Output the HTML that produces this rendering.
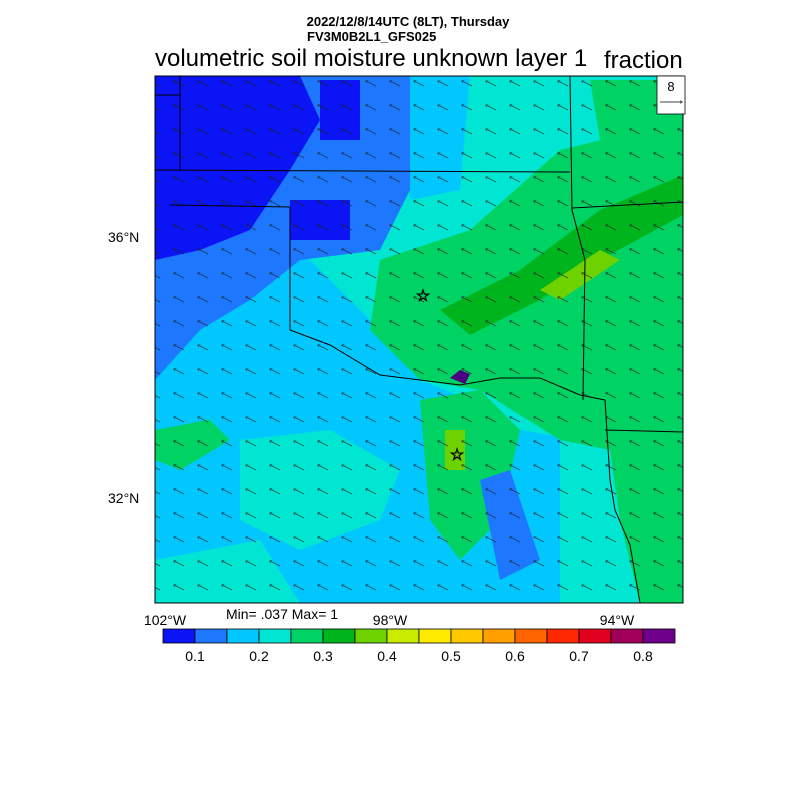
<!DOCTYPE html>
<html><head><style>
body{margin:0;background:#fff;width:800px;height:800px;overflow:hidden;font-family:"Liberation Sans",sans-serif}
</style></head><body>
<svg width="800" height="800" viewBox="0 0 800 800" xmlns="http://www.w3.org/2000/svg" font-family="Liberation Sans, sans-serif">
<defs>
<marker id="ah" markerWidth="4" markerHeight="4" refX="3" refY="2" orient="auto"><path d="M0,0 L4,2 L0,4" fill="none" stroke="#222" stroke-width="0.8"/></marker>
<pattern id="arrN" width="24" height="24" patternUnits="userSpaceOnUse"><line x1="16" y1="14" x2="6" y2="9" stroke="#222" stroke-width="0.7" marker-end="url(#ah)"/></pattern>
<pattern id="arrS" width="24" height="24" patternUnits="userSpaceOnUse"><line x1="10" y1="18" x2="14" y2="6" stroke="#222" stroke-width="0.7" marker-end="url(#ah)"/></pattern>
<clipPath id="mc"><rect x="155" y="76" width="528" height="527"/></clipPath>
</defs>
<text x="408" y="26" font-size="13" font-weight="bold" text-anchor="middle">2022/12/8/14UTC (8LT), Thursday</text>
<text x="307" y="41" font-size="13" font-weight="bold">FV3M0B2L1_GFS025</text>
<text x="155" y="66" font-size="24">volumetric soil moisture unknown layer 1</text>
<text x="604" y="68" font-size="24">fraction</text>
<g clip-path="url(#mc)">
<rect x="155" y="76" width="528" height="527" fill="#00e6d2"/>
<polygon points="155,250 300,250 380,330 420,380 470,400 520,430 580,440 560,603 155,603" fill="#00c8ff"/>
<polygon points="240,440 330,430 400,470 380,520 300,550 240,520" fill="#00e6d2"/>
<polygon points="155,560 260,540 300,603 155,603" fill="#00e6d2"/>
<polygon points="155,420 200,410 230,440 180,470 155,460" fill="#00d264"/>
<polygon points="380,260 470,230 560,150 683,120 683,603 560,603 560,440 480,390 420,380 370,330" fill="#00d264"/>
<polygon points="420,400 480,390 520,430 500,520 460,560 430,520" fill="#00d264"/>
<polygon points="560,440 610,450 620,520 640,603 560,603" fill="#00e6d2"/>
<polygon points="590,80 683,80 683,130 600,140" fill="#00d264"/>
<polygon points="440,310 520,270 600,210 683,175 683,215 600,260 540,300 470,335" fill="#00b41e"/>
<polygon points="540,290 600,250 620,260 560,300" fill="#6ed200"/>
<rect x="445" y="430" width="20" height="40" fill="#6ed200"/>
<polygon points="155,76 410,76 410,190 380,250 300,260 250,300 200,330 155,380" fill="#1e78ff"/>
<polygon points="155,76 300,76 320,120 290,170 250,230 200,250 155,260" fill="#0a14f5"/>
<rect x="320" y="80" width="40" height="60" fill="#0a14f5"/>
<rect x="290" y="200" width="60" height="40" fill="#0a14f5"/>
<polygon points="410,76 470,76 460,190 410,200" fill="#00c8ff"/>
<polygon points="155,380 230,330 300,330 330,380 260,410 155,430" fill="#00c8ff"/>
<polygon points="480,480 510,470 540,560 500,580" fill="#1e78ff"/>
<rect x="155" y="76" width="528" height="527" fill="url(#arrN)" opacity="0.8"/>
<g fill="none" stroke="#000" stroke-width="1">
<line x1="155" y1="170" x2="570" y2="172"/>
<line x1="155" y1="95" x2="180" y2="95"/>
<line x1="180" y1="76" x2="180" y2="170"/>
<line x1="170" y1="205" x2="290" y2="207"/>
<line x1="290" y1="207" x2="290" y2="330"/>
<polyline points="290,330 330,345 380,375 420,380 460,385 500,378 540,378 580,395 605,400"/>
<polyline points="570,76 572,210 585,260 583,400"/>
<line x1="572" y1="208" x2="683" y2="202"/>
<polyline points="605,400 610,480 615,510 630,545 640,603"/>
<line x1="605" y1="430" x2="683" y2="432"/>
</g>
<path d="M450,378 l10,-8 l10,4 l-5,10 z" fill="#4a0080"/>
</g>
<rect x="155" y="76" width="528" height="527" fill="none" stroke="#000" stroke-width="1"/>
<text x="423" y="301" font-size="16" text-anchor="middle" fill="none" stroke="#000" stroke-width="0.8">☆</text>
<text x="457" y="460" font-size="16" text-anchor="middle" fill="none" stroke="#000" stroke-width="0.8">☆</text>
<rect x="657" y="76" width="28" height="38" fill="#fff" stroke="#000" stroke-width="0.8"/>
<text x="671" y="91" font-size="13" text-anchor="middle">8</text>
<line x1="660" y1="102" x2="682" y2="102" stroke="#000" stroke-width="0.7" marker-end="url(#ah)"/>
<g font-size="14">
<text x="108" y="242">36°N</text>
<text x="108" y="503">32°N</text>
<text x="165" y="625" text-anchor="middle">102°W</text>
<text x="390" y="625" text-anchor="middle">98°W</text>
<text x="617" y="625" text-anchor="middle">94°W</text>
<text x="226" y="619">Min= .037 Max= 1</text>
</g>
<g stroke="#000" stroke-width="0.8">
<rect x="163" y="629" width="32" height="14" fill="#0a14f5"/>
<rect x="195" y="629" width="32" height="14" fill="#1e78ff"/>
<rect x="227" y="629" width="32" height="14" fill="#00c8ff"/>
<rect x="259" y="629" width="32" height="14" fill="#00e6d2"/>
<rect x="291" y="629" width="32" height="14" fill="#00d264"/>
<rect x="323" y="629" width="32" height="14" fill="#00b41e"/>
<rect x="355" y="629" width="32" height="14" fill="#6ed200"/>
<rect x="387" y="629" width="32" height="14" fill="#c8eb00"/>
<rect x="419" y="629" width="32" height="14" fill="#ffeb00"/>
<rect x="451" y="629" width="32" height="14" fill="#ffc800"/>
<rect x="483" y="629" width="32" height="14" fill="#ffa000"/>
<rect x="515" y="629" width="32" height="14" fill="#ff6400"/>
<rect x="547" y="629" width="32" height="14" fill="#ff2800"/>
<rect x="579" y="629" width="32" height="14" fill="#e1001e"/>
<rect x="611" y="629" width="32" height="14" fill="#a0005a"/>
<rect x="643" y="629" width="32" height="14" fill="#6e008c"/>
</g>
<g font-size="14" text-anchor="middle">
<text x="195" y="661">0.1</text><text x="259" y="661">0.2</text><text x="323" y="661">0.3</text><text x="387" y="661">0.4</text>
<text x="451" y="661">0.5</text><text x="515" y="661">0.6</text><text x="579" y="661">0.7</text><text x="643" y="661">0.8</text>
</g>
</svg>
</body></html>
